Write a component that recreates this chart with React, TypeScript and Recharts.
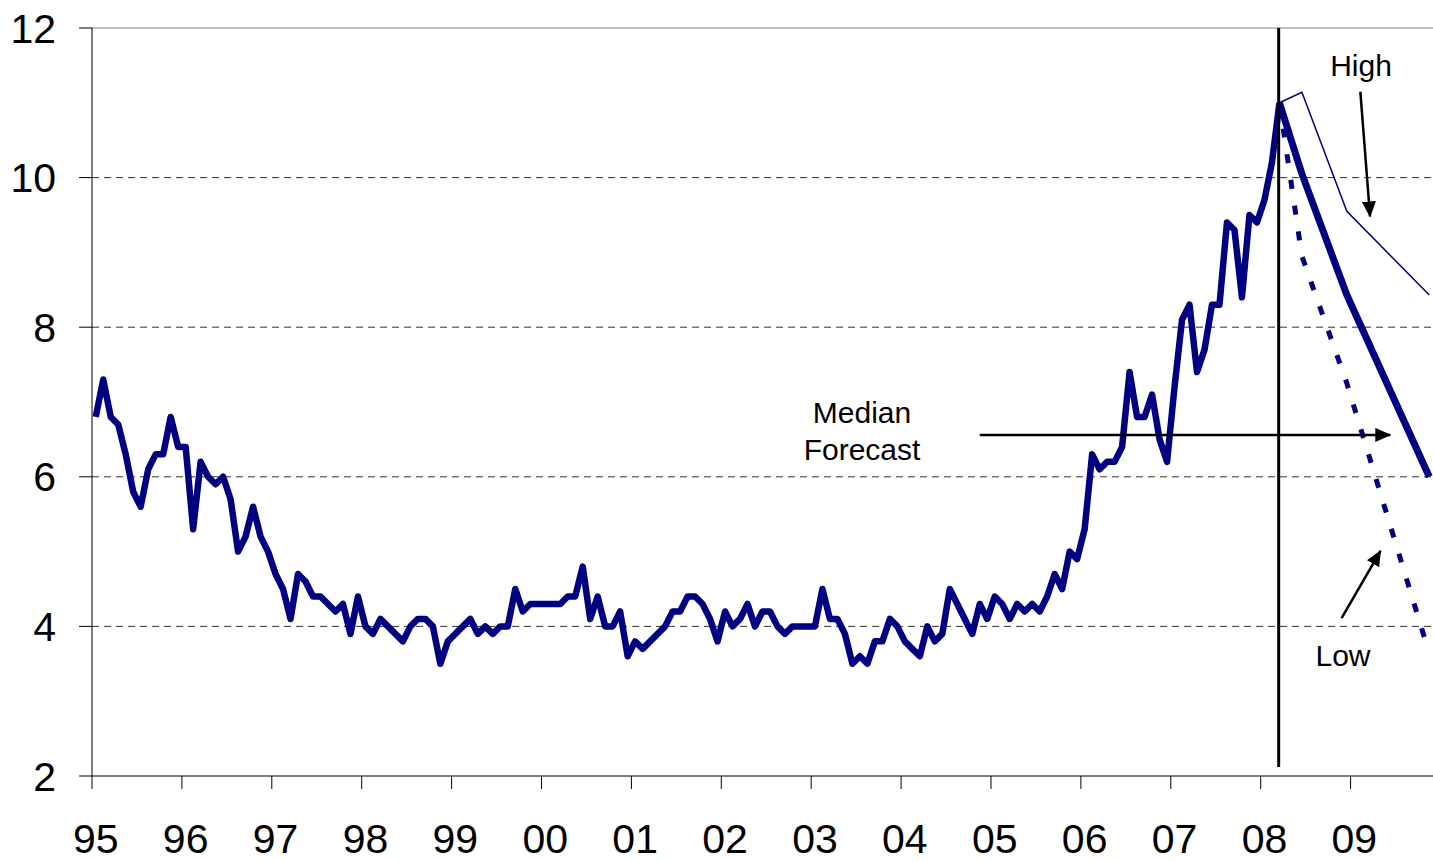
import { Line, LineChart, ReferenceLine, XAxis, YAxis } from "recharts";

// monthly actuals, Jan 1995 .. Mar 2008
const actual = [
  6.8, 7.3, 6.8, 6.7, 6.3, 5.8, 5.6, 6.1, 6.3, 6.3, 6.8, 6.4,
  6.4, 5.3, 6.2, 6.0, 5.9, 6.0, 5.7, 5.0, 5.2, 5.6, 5.2, 5.0,
  4.7, 4.5, 4.1, 4.7, 4.6, 4.4, 4.4, 4.3, 4.2, 4.3, 3.9, 4.4,
  4.0, 3.9, 4.1, 4.0, 3.9, 3.8, 4.0, 4.1, 4.1, 4.0, 3.5, 3.8,
  3.9, 4.0, 4.1, 3.9, 4.0, 3.9, 4.0, 4.0, 4.5, 4.2, 4.3, 4.3,
  4.3, 4.3, 4.3, 4.4, 4.4, 4.8, 4.1, 4.4, 4.0, 4.0, 4.2, 3.6,
  3.8, 3.7, 3.8, 3.9, 4.0, 4.2, 4.2, 4.4, 4.4, 4.3, 4.1, 3.8,
  4.2, 4.0, 4.1, 4.3, 4.0, 4.2, 4.2, 4.0, 3.9, 4.0, 4.0, 4.0,
  4.0, 4.5, 4.1, 4.1, 3.9, 3.5, 3.6, 3.5, 3.8, 3.8, 4.1, 4.0,
  3.8, 3.7, 3.6, 4.0, 3.8, 3.9, 4.5, 4.3, 4.1, 3.9, 4.3, 4.1,
  4.4, 4.3, 4.1, 4.3, 4.2, 4.3, 4.2, 4.4, 4.7, 4.5, 5.0, 4.9,
  5.3, 6.3, 6.1, 6.2, 6.2, 6.4, 7.4, 6.8, 6.8, 7.1, 6.5, 6.2,
  7.2, 8.1, 8.3, 7.4, 7.7, 8.3, 8.3, 9.4, 9.3, 8.4, 9.5, 9.4,
  9.7, 10.2, 11.0,
];

// forecast points: month index (0 = Jan 1995) -> value
const forecastMonths = [158, 161, 167, 178];
const medianForecast = [11.0, 10.05, 8.43, 6.0];
const highForecast = [11.0, 11.14, 9.55, 8.43];
const lowForecast = [11.0, 8.95, 7.25, 3.64];

const yearLabels = ["95", "96", "97", "98", "99", "00", "01", "02", "03", "04", "05", "06", "07", "08", "09"];
const yTicks = [2, 4, 6, 8, 10, 12];
const gridValues = [4, 6, 8, 10];
const totalMonths = 179;

const pick = (arr: number[], i: number) => {
  const k = forecastMonths.indexOf(i);
  return k >= 0 ? arr[k] : null;
};

const chartData = Array.from({ length: totalMonths }, (_, i) => ({
  t: i + 0.5,
  actual: i < actual.length ? actual[i] : null,
  median: pick(medianForecast, i),
  high: pick(highForecast, i),
  low: pick(lowForecast, i),
}));

const yearTicks = yearLabels.map((_, k) => k * 12);
const font = "'Liberation Sans', Arial, sans-serif";
const navy = "#000080";

function YearTick({ x, y, index }: any) {
  // labels sit over the January point, half a month right of the tick
  return (
    <text x={x + 3.75} y={y} dy="0.71em" textAnchor="middle" fontSize={41} fontFamily={font} fill="#000">
      {yearLabels[index]}
    </text>
  );
}

export default function App() {
  return (
    <div style={{ position: "absolute", left: 0, top: 0, width: 1433, height: 861, background: "#fff" }}>
      <LineChart width={1433} height={861} data={chartData} margin={{ top: 28, right: 0, bottom: 0, left: 0 }}>
        <defs>
          <marker id="arrowhead" markerUnits="userSpaceOnUse" markerWidth={16} markerHeight={14} refX={15} refY={7} orient="auto">
            <path d="M0,0 L16,7 L0,14 z" fill="#000" />
          </marker>
        </defs>
        <XAxis
          type="number"
          dataKey="t"
          domain={[0, totalMonths]}
          ticks={yearTicks}
          interval={0}
          height={85}
          tickSize={13}
          tickMargin={35}
          stroke="#000"
          tick={<YearTick />}
        />
        <YAxis
          type="number"
          domain={[2, 12]}
          ticks={yTicks}
          interval={0}
          width={92}
          tickSize={13}
          tickMargin={23}
          stroke="#000"
          tick={{ fontSize: 41, fontFamily: font, fill: "#000" }}
        />
        {gridValues.map((v) => (
          <ReferenceLine key={v} y={v} stroke="#333" strokeDasharray="7 5" />
        ))}
        <ReferenceLine y={12} stroke="#808080" />

        <Line dataKey="actual" stroke={navy} strokeWidth={6.5} strokeLinejoin="round" dot={false} activeDot={false} isAnimationActive={false} />
        <Line dataKey="high" stroke={navy} strokeWidth={1.5} connectNulls dot={false} activeDot={false} isAnimationActive={false} />
        <Line dataKey="low" stroke={navy} strokeWidth={5} strokeDasharray="9 17" connectNulls dot={false} activeDot={false} isAnimationActive={false} />
        <Line dataKey="median" stroke={navy} strokeWidth={7} strokeLinejoin="round" connectNulls dot={false} activeDot={false} isAnimationActive={false} />

        <ReferenceLine segment={[{ x: 158.4, y: 12 }, { x: 158.4, y: 2.12 }]} stroke="#000" strokeWidth={3} />
        <ReferenceLine segment={[{ x: 118.5, y: 6.56 }, { x: 173.3, y: 6.56 }]} stroke="#000" strokeWidth={2.5} markerEnd="url(#arrowhead)" />
        <ReferenceLine segment={[{ x: 169.3, y: 11.15 }, { x: 170.6, y: 9.48 }]} stroke="#000" strokeWidth={2.5} markerEnd="url(#arrowhead)" />
        <ReferenceLine segment={[{ x: 166.8, y: 4.11 }, { x: 172.0, y: 5.01 }]} stroke="#000" strokeWidth={2.5} markerEnd="url(#arrowhead)" />

        <text x={1361} y={76} textAnchor="middle" fontSize={30} fontFamily={font} fill="#000">High</text>
        <text x={862} y={423} textAnchor="middle" fontSize={30} fontFamily={font} fill="#000">Median</text>
        <text x={862} y={460} textAnchor="middle" fontSize={30} fontFamily={font} fill="#000">Forecast</text>
        <text x={1343} y={666} textAnchor="middle" fontSize={30} fontFamily={font} fill="#000">Low</text>
      </LineChart>
    </div>
  );
}
